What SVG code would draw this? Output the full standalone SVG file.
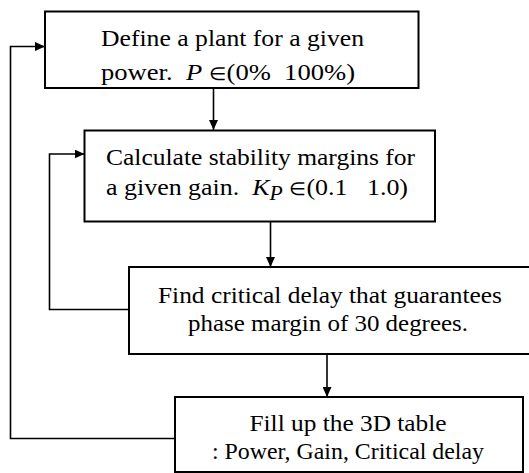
<svg xmlns="http://www.w3.org/2000/svg" width="529" height="473" viewBox="0 0 529 473">
<style>
.box{fill:#fff;stroke:#000;stroke-width:2}
.t{font-family:"Liberation Serif","Times New Roman",serif;font-size:24px;fill:#000;white-space:pre}
.c{text-anchor:middle}
.it{font-style:italic}
.el{font-size:18px}
.con{fill:none;stroke:#000;stroke-width:1.6}
</style>
<defs>
<marker id="ah" markerUnits="userSpaceOnUse" markerWidth="10" markerHeight="9" refX="10" refY="4.5" orient="auto">
<path d="M0,0 L10,4.5 L0,9 z" fill="#000"/>
</marker>
</defs>
<rect width="529" height="473" fill="#fff"/>
<g id="connectors">
<line class="con" x1="213.5" y1="88" x2="213.5" y2="130" marker-end="url(#ah)"/>
<line class="con" x1="270.5" y1="221" x2="270.5" y2="267" marker-end="url(#ah)"/>
<line class="con" x1="327" y1="354" x2="327" y2="397" marker-end="url(#ah)"/>
<polyline class="con" points="175,438.5 10.5,438.5 10.5,46.5 45,46.5" marker-end="url(#ah)"/>
<polyline class="con" points="129,309.5 49.5,309.5 49.5,154 84.5,154" marker-end="url(#ah)"/>
</g>
<g id="node1">
<rect class="box" x="45" y="11.5" width="373.5" height="76.5"/>
<text class="t" x="101" y="46" textLength="263" lengthAdjust="spacingAndGlyphs">Define a plant for a given</text>
<text class="t" x="101" y="80" textLength="254" lengthAdjust="spacingAndGlyphs">power.  <tspan class="it">P</tspan> <tspan class="el">∈</tspan>(0%  100%)</text>
</g>
<g id="node2">
<rect class="box" x="84.5" y="130.5" width="350.5" height="91"/>
<text class="t" x="106" y="165" textLength="309" lengthAdjust="spacingAndGlyphs">Calculate stability margins for</text>
<text class="t" x="106" y="195" textLength="302" lengthAdjust="spacingAndGlyphs">a given gain.  <tspan class="it">K</tspan><tspan class="it" font-size="20" dy="5">P</tspan><tspan dy="-5"> </tspan><tspan class="el">∈</tspan>(0.1   1.0)</text>
</g>
<g id="node3">
<rect class="box" x="129" y="267" width="403" height="87"/>
<text class="t c" x="330" y="303" textLength="344" lengthAdjust="spacingAndGlyphs">Find critical delay that guarantees</text>
<text class="t c" x="328" y="331" textLength="280" lengthAdjust="spacingAndGlyphs">phase margin of 30 degrees.</text>
</g>
<g id="node4">
<rect class="box" x="175" y="397" width="348" height="75"/>
<text class="t c" x="348" y="431" textLength="197" lengthAdjust="spacingAndGlyphs">Fill up the 3D table</text>
<text class="t c" x="348" y="459" textLength="272" lengthAdjust="spacingAndGlyphs">: Power, Gain, Critical delay</text>
</g>
</svg>
